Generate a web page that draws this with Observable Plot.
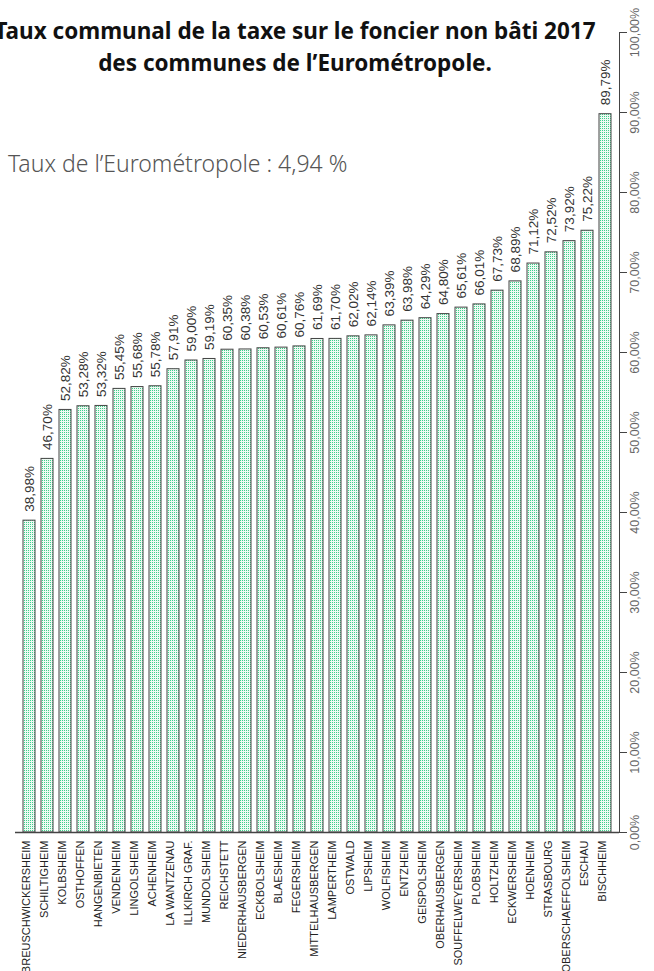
<!DOCTYPE html>
<html><head><meta charset="utf-8">
<script src="https://cdn.jsdelivr.net/npm/d3@7"></script>
<script src="https://cdn.jsdelivr.net/npm/@observablehq/plot@0.6"></script>
<style>
body{margin:0;background:#fff;}
#wrap{position:relative;width:654px;height:971px;overflow:hidden;}
#title{position:absolute;left:-55px;width:700px;top:15px;text-align:center;white-space:nowrap;font-family:"Noto Sans","Open Sans",sans-serif;font-weight:700;font-size:22.5px;line-height:32px;color:#111;}
#sub{position:absolute;left:8px;top:150px;white-space:nowrap;font-family:"Noto Sans","Open Sans",sans-serif;font-weight:300;font-size:23px;line-height:1.2;color:#555;}
</style></head>
<body><div id="wrap"><div id="chart"></div>
<div id="title">Taux communal de la taxe sur le foncier non bâti 2017<br>des communes de l’Eurométropole.</div>
<div id="sub">Taux de l’Eurométropole : 4,94 %</div></div>
<script>
const communes = ["BREUSCHWICKERSHEIM","SCHILTIGHEIM","KOLBSHEIM","OSTHOFFEN","HANGENBIETEN","VENDENHEIM","LINGOLSHEIM","ACHENHEIM","LA WANTZENAU","ILLKIRCH GRAF.","MUNDOLSHEIM","REICHSTETT","NIEDERHAUSBERGEN","ECKBOLSHEIM","BLAESHEIM","FEGERSHEIM","MITTELHAUSBERGEN","LAMPERTHEIM","OSTWALD","LIPSHEIM","WOLFISHEIM","ENTZHEIM","GEISPOLSHEIM","OBERHAUSBERGEN","SOUFFELWEYERSHEIM","PLOBSHEIM","HOLTZHEIM","ECKWERSHEIM","HOENHEIM","STRASBOURG","OBERSCHAEFFOLSHEIM","ESCHAU","BISCHHEIM"];
const taux = [38.98,46.70,52.82,53.28,53.32,55.45,55.68,55.78,57.91,59.00,59.19,60.35,60.38,60.53,60.61,60.76,61.69,61.70,62.02,62.14,63.39,63.98,64.29,64.80,65.61,66.01,67.73,68.89,71.12,72.52,73.92,75.22,89.79];
const yTicks = [0,10,20,30,40,50,60,70,80,90,100];

const data = communes.map((c,i)=>({commune:c, taux:taux[i]}));
const fmt = v => v.toFixed(2).replace(".", ",") + "%";

const chart = Plot.plot({
  width:654, height:971,
  marginTop:32, marginBottom:139, marginLeft:15, marginRight:35,
  x:{domain:communes, paddingInner:0.35, paddingOuter:0.1, axis:null},
  y:{domain:[0,100], axis:null},
  style:{fontFamily:"'Liberation Sans', Arial, sans-serif", background:"white"},
  marks:[
    Plot.barY(data,{x:"commune", y:"taux", fill:"url(#dots)", stroke:"#444", strokeWidth:1}),
    Plot.ruleY([0],{stroke:"#444", strokeWidth:1.5}),
    Plot.frame({anchor:"right", stroke:"#444"}),
    Plot.axisY({anchor:"right", ticks:yTicks, tickSize:7, tickFormat:()=>"", label:null, stroke:"#444"}),
    Plot.text(yTicks,{y:d=>d, text:d=>fmt(d), frameAnchor:"right", rotate:-90, textAnchor:"middle", lineAnchor:"top", dx:11, fontSize:12.5, fill:"#666"}),
    Plot.text(data,{x:"commune", y:"taux", text:d=>fmt(d.taux), rotate:-90, textAnchor:"start", dy:-9, fontSize:13.5, fill:"#333"}),
    Plot.text(data,{x:"commune", text:"commune", frameAnchor:"bottom", rotate:-90, textAnchor:"end", dy:8, fontSize:11, fill:"#222"})
  ]
});
const ns = "http://www.w3.org/2000/svg";
const defs = document.createElementNS(ns,"defs");
defs.innerHTML = '<pattern id="dots" width="2" height="2" patternUnits="userSpaceOnUse"><rect width="2" height="2" fill="#eefaf3"/><rect width="1" height="1" fill="#3fd08c"/></pattern>';
chart.insertBefore(defs, chart.firstChild);
document.getElementById("chart").appendChild(chart);
</script>
</body></html>
